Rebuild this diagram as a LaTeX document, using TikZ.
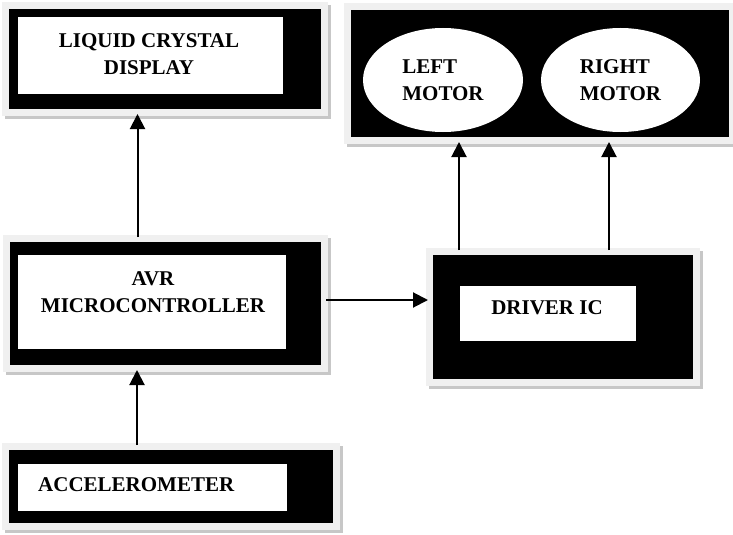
\documentclass[tikz,border=0pt]{standalone}
\usepackage{fontspec}
\setmainfont{Liberation Serif}
\usetikzlibrary{arrows.meta, shapes.geometric}

\begin{document}
\begin{tikzpicture}[x=1pt, y=-1pt,
    blockbox/.style={rectangle, fill=black, inner sep=0pt, outer sep=5pt,
      preaction={draw=black!22, line width=14pt, transform canvas={shift={(3pt,-3pt)}}},
      preaction={draw=black!6, line width=14pt}},
    whitebox/.style={rectangle, fill=white, inner sep=0pt},
    motorshape/.style={ellipse, fill=white, inner sep=0pt, minimum width=160pt, minimum height=104pt, align=left, font=\bfseries\fontsize{21}{27}\selectfont},
    labeltext/.style={inner sep=0pt, align=center, font=\bfseries\fontsize{21}{27}\selectfont},
    arr/.style={-{Triangle[length=15pt, width=15pt]}, line width=2pt}
  ]
    \useasboundingbox (0,0) rectangle (733,535);
    % outer black blocks
    \node[blockbox, minimum width=312pt, minimum height=100pt] (lcd) at (165, 59) {};
    \node[blockbox, minimum width=378pt, minimum height=127pt] (motors) at (540, 73.5) {};
    \node[blockbox, minimum width=311pt, minimum height=123pt] (micro) at (165.5, 303.5) {};
    \node[blockbox, minimum width=260pt, minimum height=124pt] (driver) at (563, 317) {};
    \node[blockbox, minimum width=324pt, minimum height=73pt] (accel) at (171, 486.5) {};
    % white panels
    \node[whitebox, minimum width=265pt, minimum height=77pt] (lcdpanel) at (150.5, 55.5) {};
    \node[whitebox, minimum width=268pt, minimum height=94pt] (micropanel) at (152, 302) {};
    \node[whitebox, minimum width=176pt, minimum height=55pt] (driverpanel) at (548, 313.5) {};
    \node[whitebox, minimum width=269pt, minimum height=47pt] (accelpanel) at (152.5, 487.5) {};
    \node[motorshape] (leftmotor) at (443, 80) {LEFT\\MOTOR};
    \node[motorshape, minimum width=159pt] (rightmotor) at (620.5, 80) {RIGHT\\MOTOR};
    % texts
    \node[labeltext] (lcdtext) at (149, 54) {LIQUID CRYSTAL\\DISPLAY};
    \node[labeltext] (microtext) at (153, 292.5) {AVR\\MICROCONTROLLER};
    \node[labeltext] (drivertext) at (547, 308) {DRIVER IC};
    \node[labeltext, anchor=west] (acceltext) at (38, 485) {ACCELEROMETER};
    % connections
    \draw[arr] ([xshift=-28pt]micro.north) -- ([xshift=-28pt]micro.north |- lcd.south);
    \draw[arr] ([xshift=-34pt]accel.north) -- ([xshift=-34pt]accel.north |- micro.south);
    \draw[arr] ([yshift=3.5pt]micro.east) -- ([yshift=3.5pt]micro.east -| driver.west);
    \draw[arr] ([xshift=-104pt]driver.north) -- ([xshift=-104pt]driver.north |- motors.south);
    \draw[arr] ([xshift=46pt]driver.north) -- ([xshift=46pt]driver.north |- motors.south);
  \end{tikzpicture}
\end{document}
